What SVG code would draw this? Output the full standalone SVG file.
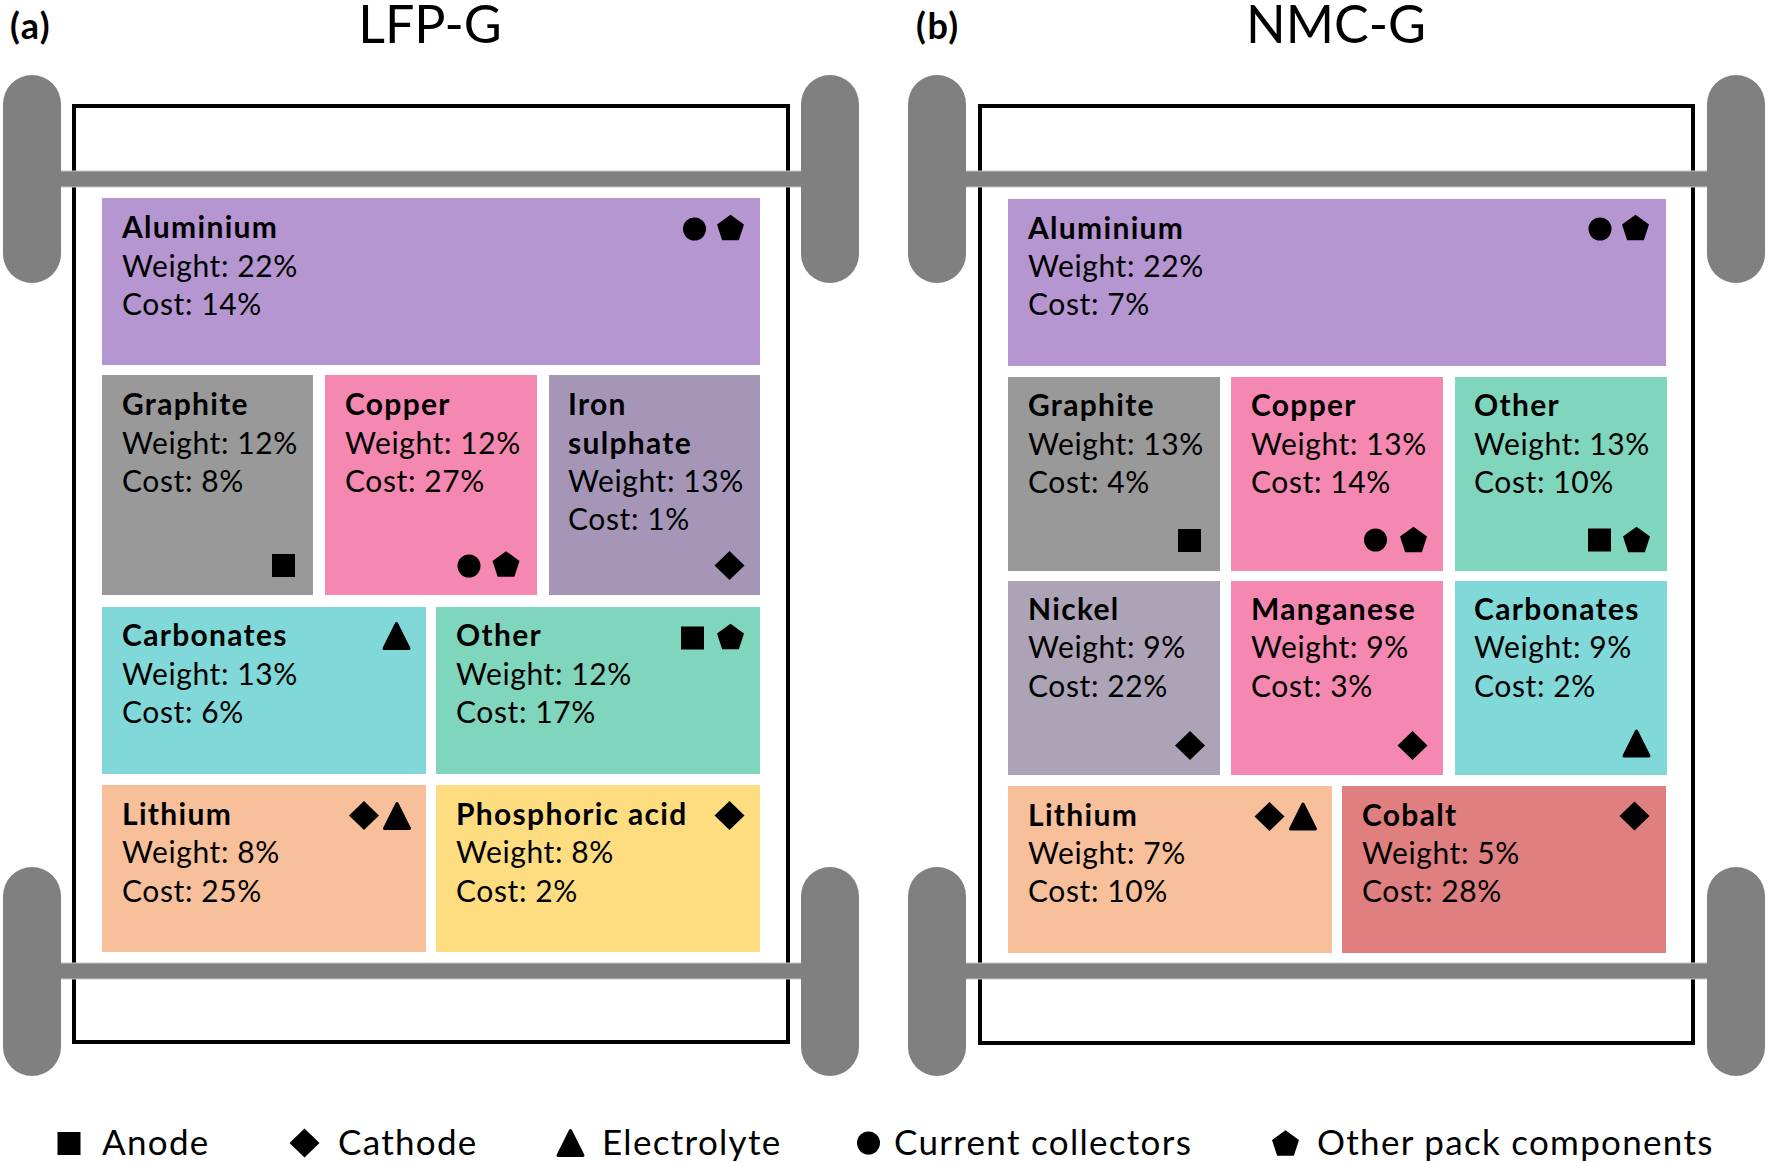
<svg xmlns="http://www.w3.org/2000/svg" width="1768" height="1163" viewBox="0 0 1768 1163">
<style>
.t{font-family:Lato,"Liberation Sans",sans-serif;font-size:30px;fill:#000;letter-spacing:0.6px}
.b{font-weight:700;letter-spacing:1.3px}
.ttl{font-family:Lato,"Liberation Sans",sans-serif;font-size:52px;fill:#000;text-anchor:middle}
.lab{font-family:Lato,"Liberation Sans",sans-serif;font-size:36px;font-weight:700;fill:#000;letter-spacing:1.5px}
.leg{font-family:Lato,"Liberation Sans",sans-serif;font-size:35px;fill:#000;letter-spacing:1.3px}
.frame{fill:#fff;stroke:#000;stroke-width:4}
.cap{fill:#808080}
.bar{fill:#808080;stroke:#c4c4c4;stroke-width:1}
.al{fill:#B596D0}.gr{fill:#999999}.cu{fill:#F588B0}.fe{fill:#A596B8}
.ca{fill:#80D8D8}.ot{fill:#80D5BD}.li{fill:#F8C09A}.ph{fill:#FEDD80}
.ni{fill:#ADA3B6}.co{fill:#DF7F7F}
</style>
<defs>
<rect id="sq" x="-11.5" y="-11.5" width="23" height="23"/>
<polygon id="dia" points="0,-14.5 15,0 0,14.5 -15,0"/>
<path id="tri" d="M0,-12.5 L12.5,12.5 L-12.5,12.5 Z" stroke="#000" stroke-width="3" stroke-linejoin="round"/>
<circle id="cir" r="11.5"/>
<polygon id="pent" points="0,-12.85 13.5,-3.03 8.35,12.85 -8.35,12.85 -13.5,-3.03"/>
</defs>

<g id="panel-a">
<text class="lab" x="10" y="39">(a)</text>
<text class="ttl" x="430" y="43">LFP-G</text>
<rect class="frame" x="74" y="106" width="714" height="936"/>
<rect class="bar" x="58" y="171" width="746" height="16"/>
<rect class="bar" x="58" y="963" width="746" height="16"/>
<rect class="cap" x="3" y="75" width="58" height="208" rx="29"/>
<rect class="cap" x="801" y="75" width="58" height="208" rx="29"/>
<rect class="cap" x="3" y="867" width="58" height="209" rx="29"/>
<rect class="cap" x="801" y="867" width="58" height="209" rx="29"/>
</g>

<g id="panel-b">
<text class="lab" x="916" y="39">(b)</text>
<text class="ttl" x="1336" y="43">NMC-G</text>
<rect class="frame" x="980" y="106" width="713" height="937"/>
<rect class="bar" x="964" y="171" width="746" height="16"/>
<rect class="bar" x="964" y="963" width="746" height="16"/>
<rect class="cap" x="908" y="75" width="58" height="208" rx="29"/>
<rect class="cap" x="1707" y="75" width="58" height="208" rx="29"/>
<rect class="cap" x="908" y="867" width="58" height="209" rx="29"/>
<rect class="cap" x="1707" y="867" width="58" height="209" rx="29"/>
</g>

<g id="a-aluminium">
<rect class="al" x="102" y="198" width="658" height="167"/>
<text class="t b" x="122" y="238">Aluminium</text>
<text class="t" x="122" y="277">Weight: 22%</text>
<text class="t" x="122" y="315">Cost: 14%</text>
<use href="#cir" x="694.5" y="229"/><use href="#pent" x="730.5" y="227.5"/>
</g>
<g id="a-graphite">
<rect class="gr" x="102" y="375" width="211" height="220"/>
<text class="t b" x="122" y="415">Graphite</text>
<text class="t" x="122" y="454">Weight: 12%</text>
<text class="t" x="122" y="492">Cost: 8%</text>
<use href="#sq" x="283.5" y="565.5"/>
</g>
<g id="a-copper">
<rect class="cu" x="325" y="375" width="212" height="220"/>
<text class="t b" x="345" y="415">Copper</text>
<text class="t" x="345" y="454">Weight: 12%</text>
<text class="t" x="345" y="492">Cost: 27%</text>
<use href="#cir" x="469" y="566"/><use href="#pent" x="506" y="564"/>
</g>
<g id="a-iron-sulphate">
<rect class="fe" x="549" y="375" width="211" height="220"/>
<text class="t b" x="568" y="415">Iron</text>
<text class="t b" x="568" y="454">sulphate</text>
<text class="t" x="568" y="492">Weight: 13%</text>
<text class="t" x="568" y="530">Cost: 1%</text>
<use href="#dia" x="729.5" y="565.5"/>
</g>
<g id="a-carbonates">
<rect class="ca" x="102" y="607" width="324" height="167"/>
<text class="t b" x="122" y="646">Carbonates</text>
<text class="t" x="122" y="685">Weight: 13%</text>
<text class="t" x="122" y="723">Cost: 6%</text>
<use href="#tri" x="396.5" y="636"/>
</g>
<g id="a-other">
<rect class="ot" x="436" y="607" width="324" height="167"/>
<text class="t b" x="456" y="646">Other</text>
<text class="t" x="456" y="685">Weight: 12%</text>
<text class="t" x="456" y="723">Cost: 17%</text>
<use href="#sq" x="692.5" y="638"/><use href="#pent" x="730.5" y="636.5"/>
</g>
<g id="a-lithium">
<rect class="li" x="102" y="785" width="324" height="167"/>
<text class="t b" x="122" y="825">Lithium</text>
<text class="t" x="122" y="863">Weight: 8%</text>
<text class="t" x="122" y="902">Cost: 25%</text>
<use href="#dia" x="364" y="815.5"/><use href="#tri" x="397" y="816"/>
</g>
<g id="a-phosphoric-acid">
<rect class="ph" x="436" y="785" width="324" height="167"/>
<text class="t b" x="456" y="825">Phosphoric acid</text>
<text class="t" x="456" y="863">Weight: 8%</text>
<text class="t" x="456" y="902">Cost: 2%</text>
<use href="#dia" x="729.5" y="815.5"/>
</g>

<g id="b-aluminium">
<rect class="al" x="1008" y="199" width="658" height="167"/>
<text class="t b" x="1028" y="239">Aluminium</text>
<text class="t" x="1028" y="277">Weight: 22%</text>
<text class="t" x="1028" y="315">Cost: 7%</text>
<use href="#cir" x="1600" y="229"/><use href="#pent" x="1635.5" y="227.5"/>
</g>
<g id="b-graphite">
<rect class="gr" x="1008" y="377" width="212" height="194"/>
<text class="t b" x="1028" y="416">Graphite</text>
<text class="t" x="1028" y="455">Weight: 13%</text>
<text class="t" x="1028" y="493">Cost: 4%</text>
<use href="#sq" x="1189.5" y="540.5"/>
</g>
<g id="b-copper">
<rect class="cu" x="1231" y="377" width="212" height="194"/>
<text class="t b" x="1251" y="416">Copper</text>
<text class="t" x="1251" y="455">Weight: 13%</text>
<text class="t" x="1251" y="493">Cost: 14%</text>
<use href="#cir" x="1375.5" y="540"/><use href="#pent" x="1413.5" y="539.5"/>
</g>
<g id="b-other">
<rect class="ot" x="1455" y="377" width="212" height="194"/>
<text class="t b" x="1474" y="416">Other</text>
<text class="t" x="1474" y="455">Weight: 13%</text>
<text class="t" x="1474" y="493">Cost: 10%</text>
<use href="#sq" x="1599.5" y="540"/><use href="#pent" x="1636.5" y="539.5"/>
</g>
<g id="b-nickel">
<rect class="ni" x="1008" y="581" width="212" height="194"/>
<text class="t b" x="1028" y="620">Nickel</text>
<text class="t" x="1028" y="658">Weight: 9%</text>
<text class="t" x="1028" y="697">Cost: 22%</text>
<use href="#dia" x="1190" y="745.5"/>
</g>
<g id="b-manganese">
<rect class="cu" x="1231" y="581" width="212" height="194"/>
<text class="t b" x="1251" y="620">Manganese</text>
<text class="t" x="1251" y="658">Weight: 9%</text>
<text class="t" x="1251" y="697">Cost: 3%</text>
<use href="#dia" x="1412.5" y="745.5"/>
</g>
<g id="b-carbonates">
<rect class="ca" x="1455" y="581" width="212" height="194"/>
<text class="t b" x="1474" y="620">Carbonates</text>
<text class="t" x="1474" y="658">Weight: 9%</text>
<text class="t" x="1474" y="697">Cost: 2%</text>
<use href="#tri" x="1636.5" y="743.5"/>
</g>
<g id="b-lithium">
<rect class="li" x="1008" y="786" width="324" height="167"/>
<text class="t b" x="1028" y="826">Lithium</text>
<text class="t" x="1028" y="864">Weight: 7%</text>
<text class="t" x="1028" y="902">Cost: 10%</text>
<use href="#dia" x="1269.5" y="816.5"/><use href="#tri" x="1303" y="816.5"/>
</g>
<g id="b-cobalt">
<rect class="co" x="1342" y="786" width="324" height="167"/>
<text class="t b" x="1362" y="826">Cobalt</text>
<text class="t" x="1362" y="864">Weight: 5%</text>
<text class="t" x="1362" y="902">Cost: 28%</text>
<use href="#dia" x="1634.5" y="816"/>
</g>

<g id="legend">
<use href="#sq" x="69" y="1143.5"/><text class="leg" x="102" y="1155">Anode</text>
<use href="#dia" x="304.5" y="1143"/><text class="leg" x="338" y="1155">Cathode</text>
<use href="#tri" x="570.5" y="1143"/><text class="leg" x="602" y="1155">Electrolyte</text>
<use href="#cir" x="868.5" y="1143"/><text class="leg" x="894" y="1155">Current collectors</text>
<use href="#pent" x="1285.5" y="1143"/><text class="leg" x="1317" y="1155">Other pack components</text>
</g>
<g id="connectors"/>
</svg>
